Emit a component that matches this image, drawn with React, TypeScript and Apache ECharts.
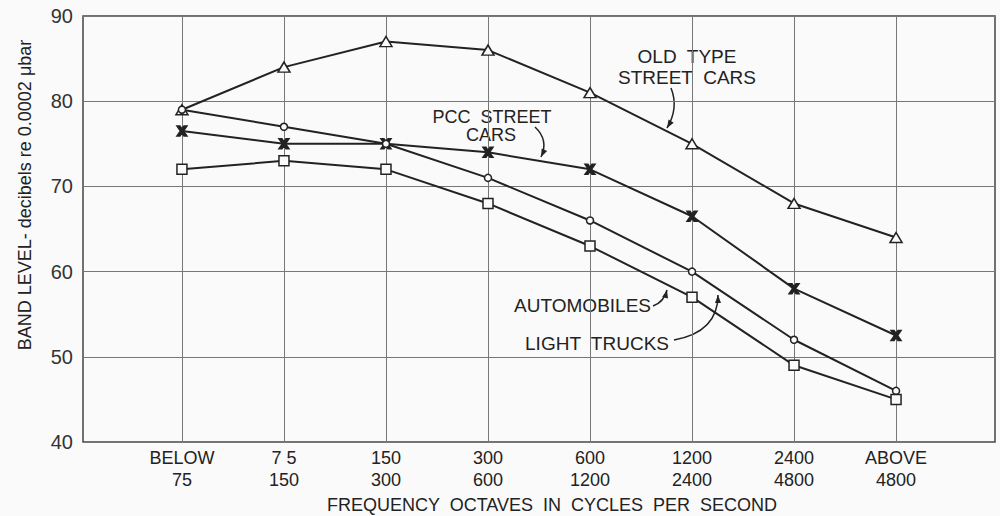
import React, { useEffect, useRef } from "react";
import * as echarts from "echarts";

const categories = [
  "BELOW\n75",
  "7 5\n150",
  "150\n300",
  "300\n600",
  "600\n1200",
  "1200\n2400",
  "2400\n4800",
  "ABOVE\n4800",
];
const oldTypeStreetCars = [79, 84, 87, 86, 81, 75, 68, 64];
const pccStreetCars = [76.5, 75, 75, 74, 72, 66.5, 58, 52.5];
const lightTrucks = [79, 77, 75, 71, 66, 60, 52, 46];
const automobiles = [72, 73, 72, 68, 63, 57, 49, 45];
const yMin = 40;
const yMax = 90;
const yStep = 10;

const INK = "#222";
const FONT = '"Liberation Sans", Arial, sans-serif';

function arrow(x1: number, y1: number, cx: number, cy: number, x2: number, y2: number) {
  const dx = x2 - cx;
  const dy = y2 - cy;
  const len = Math.sqrt(dx * dx + dy * dy) || 1;
  const ux = dx / len;
  const uy = dy / len;
  const L = 8;
  const W = 3;
  const bx = x2 - ux * L;
  const by = y2 - uy * L;
  const px = -uy * W;
  const py = ux * W;
  return [
    {
      type: "bezierCurve",
      shape: { x1, y1, x2, y2, cpx1: cx, cpy1: cy },
      style: { stroke: INK, lineWidth: 1.5, fill: "none" },
      silent: true,
    },
    {
      type: "polygon",
      shape: { points: [[x2, y2], [bx + px, by + py], [bx - px, by - py]] },
      style: { fill: INK },
      silent: true,
    },
  ];
}

function label(text: string, x: number, y: number, size = 18, align = "center", rotation = 0) {
  return {
    type: "text",
    x,
    y,
    rotation,
    silent: true,
    style: {
      text,
      fill: INK,
      font: `${size}px ${FONT}`,
      textAlign: align,
      textVerticalAlign: "middle",
    },
  };
}

const idx = categories.map((_, i) => i);

function lineSeries(name: string, values: number[], symbol: string, size: any, filled = false) {
  return {
    name,
    type: "line",
    data: values.map((v, i) => [i, v]),
    symbol,
    symbolSize: size,
    showSymbol: true,
    lineStyle: { color: INK, width: 2 },
    itemStyle: { color: filled ? INK : "#fafafa", borderColor: INK, borderWidth: 1.5 },
    z: 3,
  };
}

export default function App() {
  const ref = useRef<HTMLDivElement>(null);
  useEffect(() => {
    if (!ref.current) return;
    const chart = echarts.init(ref.current, null, { renderer: "svg" });
    chart.setOption({
      animation: false,
      backgroundColor: "#fafafa",
      grid: {
        left: 83,
        right: 5,
        top: 16,
        bottom: 74,
        show: true,
        borderColor: "#444",
        borderWidth: 1.5,
        backgroundColor: "transparent",
      },
      xAxis: {
        type: "value",
        min: -0.97,
        max: 7.97,
        axisLine: { show: false },
        axisTick: { show: false, customValues: idx },
        splitLine: { show: true, lineStyle: { color: "#777", width: 1 } },
        axisLabel: {
          customValues: idx,
          formatter: (v: number) => categories[Math.round(v)] ?? "",
          color: INK,
          fontFamily: FONT,
          fontSize: 18,
          lineHeight: 22,
          margin: 5,
        },
      },
      yAxis: {
        type: "value",
        min: yMin,
        max: yMax,
        interval: yStep,
        axisLine: { show: false },
        axisTick: { show: false },
        splitLine: { show: true, lineStyle: { color: "#777", width: 1 } },
        axisLabel: { color: "#333", fontFamily: FONT, fontSize: 20, margin: 10 },
      },
      series: [
        lineSeries("OLD TYPE STREET CARS", oldTypeStreetCars, "triangle", [12, 10]),
        lineSeries(
          "PCC STREET CARS",
          pccStreetCars,
          "path://M0,0 L3,0 L5,3 L7,0 L10,0 L6.5,5 L10,10 L7,10 L5,7 L3,10 L0,10 L3.5,5 Z",
          10,
          true
        ),
        lineSeries("LIGHT TRUCKS", lightTrucks, "circle", 7),
        lineSeries("AUTOMOBILES", automobiles, "rect", 10),
      ],
      graphic: [
        label("BAND LEVEL- decibels re 0.0002 \u03bcbar", 25, 195, 18, "center", Math.PI / 2),
        label("FREQUENCY  OCTAVES  IN  CYCLES  PER  SECOND", 552, 505, 18),
        label("OLD  TYPE", 687, 56, 19),
        label("STREET  CARS", 687, 77, 19),
        label("PCC  STREET", 492, 117, 18),
        label("CARS", 491, 135, 18),
        label("AUTOMOBILES", 651, 305, 19, "right"),
        label("LIGHT  TRUCKS", 669, 343, 19, "right"),
        ...arrow(671, 88, 679, 108, 667, 128),
        ...arrow(535, 127, 549, 140, 541, 157),
        ...arrow(653, 306, 664, 302, 667, 290),
        ...arrow(674, 340, 718, 332, 718, 295),
      ],
    });
    return () => chart.dispose();
  }, []);
  return (
    <div
      ref={ref}
      style={{ position: "fixed", left: 0, top: 0, width: 1000, height: 516 }}
    />
  );
}
